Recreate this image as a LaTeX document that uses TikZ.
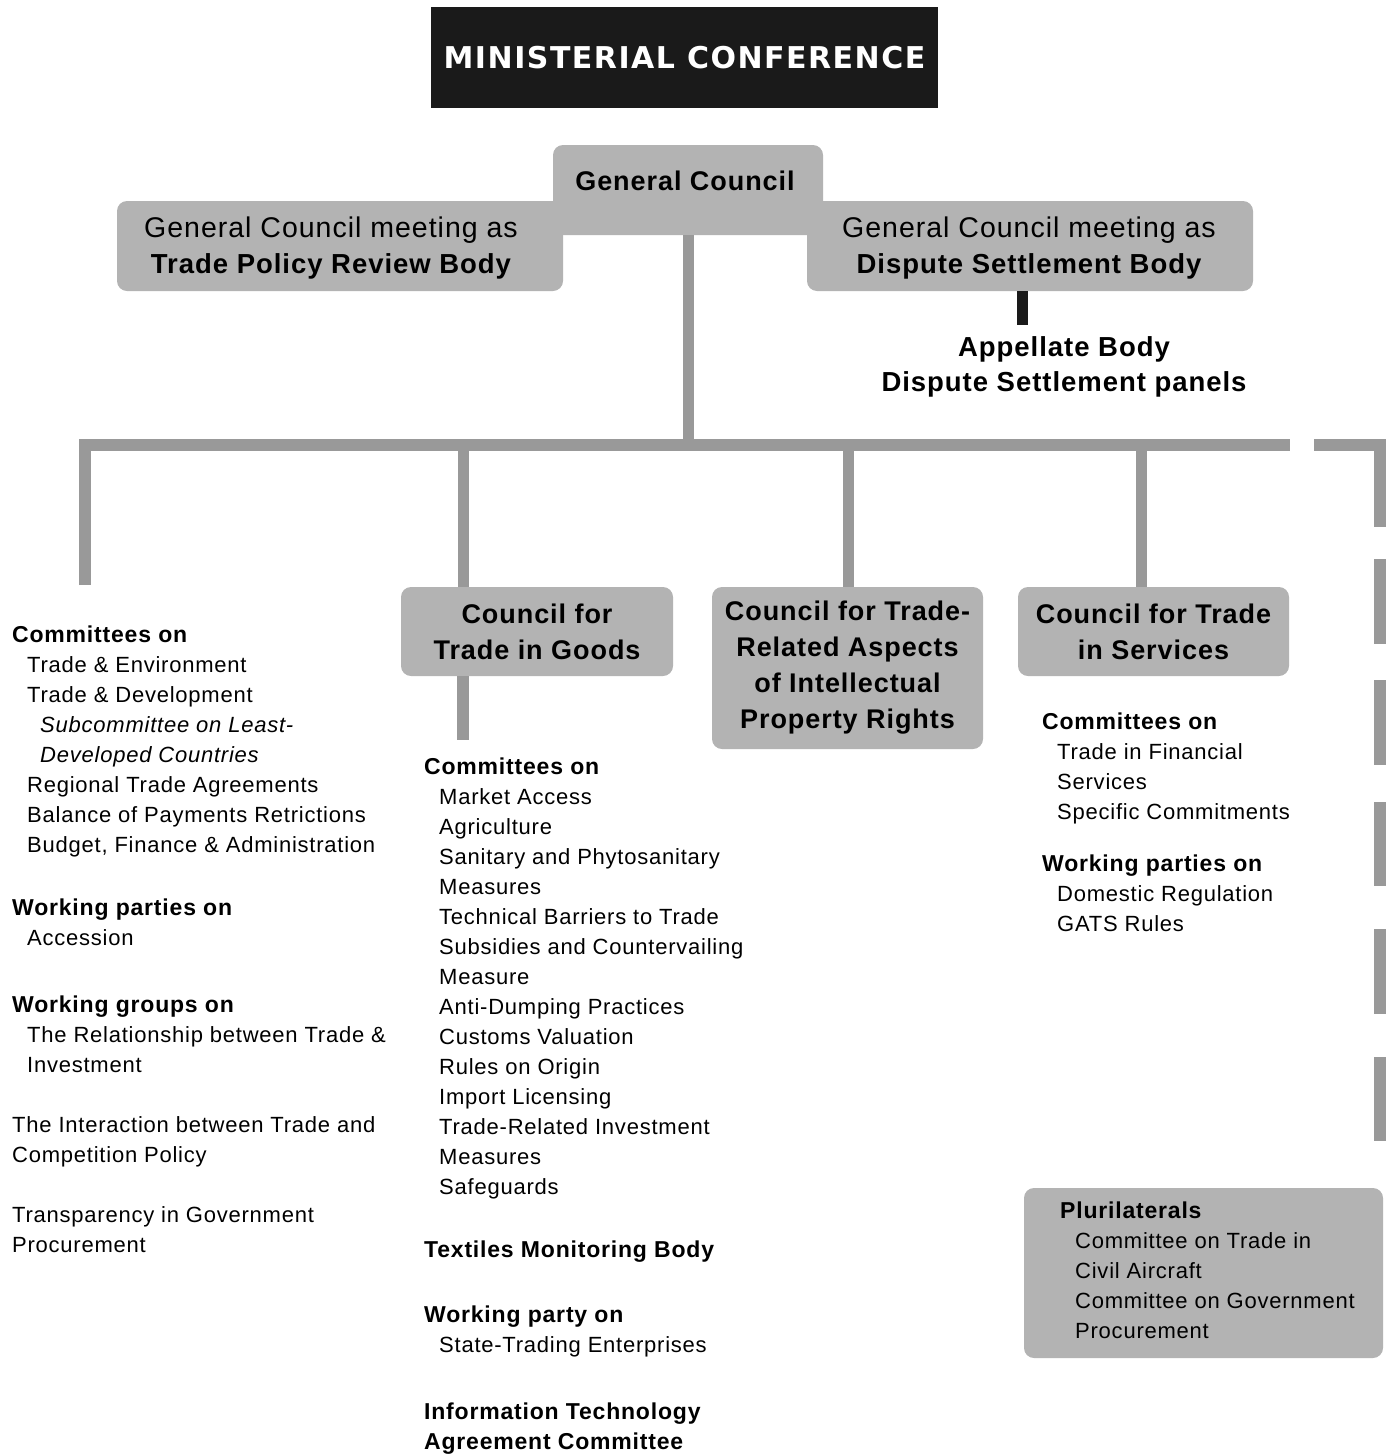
\documentclass[tikz,border=0pt]{standalone}
\usepackage{fontspec}
\setmainfont[LetterSpace=3.5]{Liberation Sans}
\newfontfamily\titlefont[LetterSpace=5]{DejaVu Sans}
\usepackage{xcolor}
\definecolor{wtobox}{RGB}{179,179,179}
\definecolor{wtoline}{RGB}{153,153,153}
\definecolor{wtoblack}{RGB}{26,26,26}
\usetikzlibrary{positioning}

\newcommand{\itm}{\hspace*{15pt}}
\newcommand{\subitm}{\hspace*{28pt}}
\newcommand{\hd}[1]{{\fontsize{23}{30}\selectfont\bfseries #1}}

\begin{document}
\begin{tikzpicture}[x=1pt, y=-1pt,
  gbox/.style={rectangle, rounded corners=10pt, fill=wtobox, inner sep=0pt,
               minimum width=#1},
  ttl/.style={font=\fontsize{27}{36}\selectfont\bfseries, align=center, inner sep=0pt},
  sub/.style={font=\fontsize{28.5}{36}\selectfont, align=center, inner sep=0pt},
  det/.style={font=\fontsize{22}{30}\selectfont, align=left, inner sep=0pt, anchor=base west},
  conn/.style={draw=wtoline, line width=12pt}
]
\useasboundingbox (0,0) rectangle (1390,1454);

% Ministerial Conference
\node[fill=wtoblack, minimum width=507pt, minimum height=101pt, text=white,
      font=\titlefont\fontsize{30}{36}\selectfont\bfseries] (mc) at (684.5,57.5) {MINISTERIAL CONFERENCE};

% General Council and the two bodies
\node[gbox=446pt, minimum height=90pt] (tprb) at (340,246) {};
\node[gbox=446pt, minimum height=90pt] (dsb) at (1030,246) {};
\node[gbox=270pt, minimum height=90pt] (gc) at (688,190) {};
\node[ttl] at (685,181) {General Council};
\node[sub] at (331,248) {General Council meeting as\\{\fontsize{27.5}{36}\selectfont\bfseries Trade Policy Review Body}};
\node[sub] at (1029,248) {General Council meeting as\\{\fontsize{27.5}{36}\selectfont\bfseries Dispute Settlement Body}};

% Appellate Body
\node[ttl, font=\fontsize{27.5}{35}\selectfont\bfseries] (apl) at (1064,367) {Appellate Body\\Dispute Settlement panels};
\coordinate (dsbstub) at (1022,325);
\draw[conn, draw=wtoblack, line width=11pt] (dsb.south -| dsbstub) -- (dsbstub);

% Councils
\node[gbox=272pt, minimum height=89pt, ttl] (goods) at (537,631.5) {Council for\\Trade in Goods};
\node[gbox=271pt, minimum height=162pt, ttl] (trips) at (847.5,668) {Council for Trade-\\Related Aspects\\of Intellectual\\Property Rights};
\node[gbox=271pt, minimum height=89pt, ttl] (serv) at (1153.5,631.5) {Council for Trade\\in Services};
\node[gbox=359pt, minimum height=170pt] (plur) at (1203.5,1273) {};

% Connectors
\coordinate (hub) at (688,445);
\coordinate (leftend) at (85,585);
\coordinate (barE) at (1290,445);
\coordinate (dropG) at (463,445);
\coordinate (dropT) at (848,445);
\coordinate (dropS) at (1141,445);
\coordinate (dashS) at (1314,445);
\coordinate (dashE) at (1380,1141);
\draw[conn, line width=11pt] (gc.south) -- (hub);
\draw[conn] (leftend) |- (barE);
\draw[conn, line width=11pt] (dropG) -- (dropG |- goods.north);
\draw[conn, line width=11pt] (dropT) -- (dropT |- trips.north);
\draw[conn, line width=11pt] (dropS) -- (dropS |- serv.north);
\draw[conn, line width=12pt] (dropG |- goods.south) -- ++(0,64);
\draw[conn, dash pattern=on 148pt off 32pt on 85pt off 36pt on 85pt off 37pt on 84pt off 43pt on 85pt off 43pt on 84pt off 300pt]
  (dashS) -| (dashE);

% Left column (nodes sit on their last baseline)
\node[det] (cmteL) at (12,852) {\hd{Committees on}\\
  \itm Trade \& Environment\\
  \itm Trade \& Development\\
  \subitm\textit{Subcommittee on Least-}\\
  \subitm\textit{Developed Countries}\\
  \itm Regional Trade Agreements\\
  \itm Balance of Payments Retrictions\\
  \itm Budget, Finance \& Administration};
\node[det] (wpL) at (12,945) {\hd{Working parties on}\\\itm Accession};
\node[det] (wgL) at (12,1072) {\hd{Working groups on}\\
  \itm The Relationship between Trade \&\\
  \itm Investment};
\node[det] (compL) at (12,1162) {The Interaction between Trade and\\Competition Policy};
\node[det] (procL) at (12,1252) {Transparency in Government\\Procurement};

% Middle column
\node[det] (cmteG) at (424,1194) {\hd{Committees on}\\
  \itm Market Access\\
  \itm Agriculture\\
  \itm Sanitary and Phytosanitary\\
  \itm Measures\\
  \itm Technical Barriers to Trade\\
  \itm Subsidies and Countervailing\\
  \itm Measure\\
  \itm Anti-Dumping Practices\\
  \itm Customs Valuation\\
  \itm Rules on Origin\\
  \itm Import Licensing\\
  \itm Trade-Related Investment\\
  \itm Measures\\
  \itm Safeguards};
\node[det] (tmb) at (424,1257) {\hd{Textiles Monitoring Body}};
\node[det] (wpG) at (424,1352) {\hd{Working party on}\\\itm State-Trading Enterprises};
\node[det] (ita) at (424,1449) {\hd{Information Technology}\\\hd{Agreement Committee}};

% Right column
\node[det] (cmteS) at (1042,819) {\hd{Committees on}\\
  \itm Trade in Financial\\
  \itm Services\\
  \itm Specific Commitments};
\node[det] (wpS) at (1042,931) {\hd{Working parties on}\\
  \itm Domestic Regulation\\
  \itm GATS Rules};

% Plurilaterals
\node[det] (plurT) at (1060,1338) {\hd{Plurilaterals}\\
  \itm Committee on Trade in\\
  \itm Civil Aircraft\\
  \itm Committee on Government\\
  \itm Procurement};
\end{tikzpicture}
\end{document}
